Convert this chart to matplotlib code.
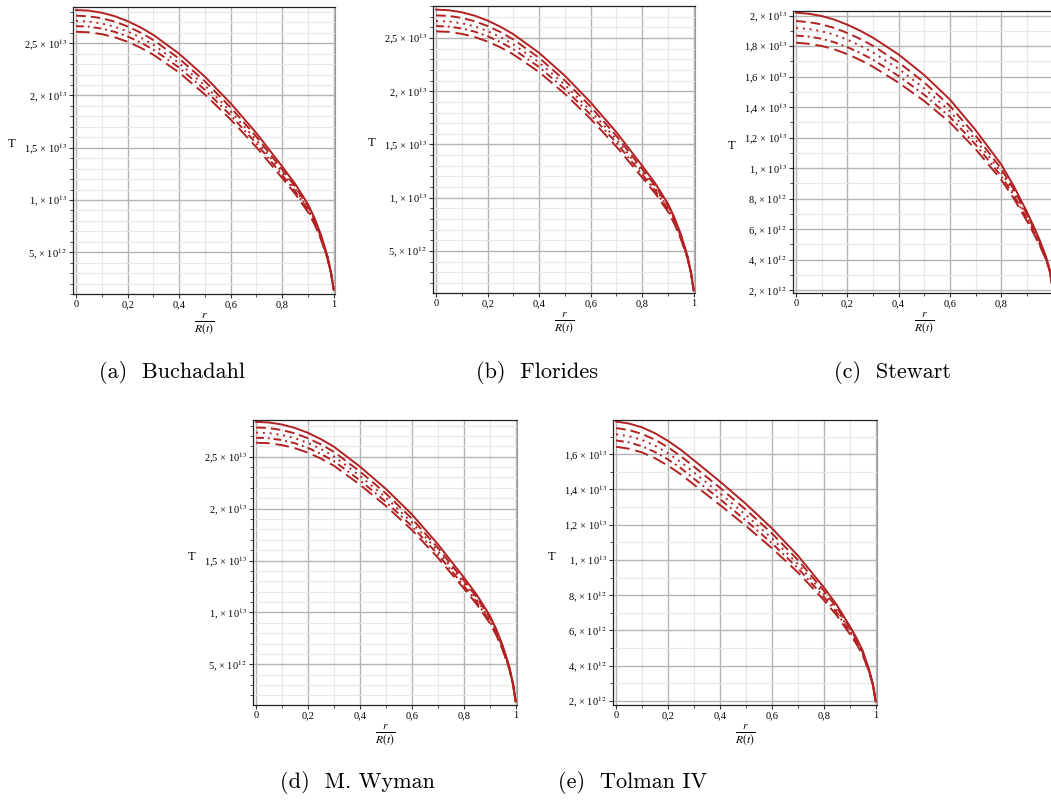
import numpy as np
import matplotlib
matplotlib.use("Agg")
import matplotlib.pyplot as plt
from matplotlib.ticker import MultipleLocator, FixedLocator

plt.rcParams['font.family'] = ['Liberation Serif', 'DejaVu Serif']
plt.rcParams['mathtext.fontset'] = 'stix'

# r / R(t)
x = [0, 0.05, 0.1, 0.15, 0.2, 0.25, 0.3, 0.4, 0.5, 0.6, 0.7, 0.8, 0.85, 0.9, 0.925, 0.95, 0.975, 0.99, 1.0]

# T in units of 1e13, five curves per panel (solid, dash, dot, dashdot, longdash)
buch = [
    [2.818, 2.812, 2.792, 2.759, 2.712, 2.652, 2.580, 2.400, 2.180, 1.925, 1.640, 1.320, 1.155, 0.960, 0.830, 0.670, 0.470, 0.300, 0.140],
    [2.764, 2.758, 2.739, 2.707, 2.661, 2.602, 2.531, 2.353, 2.136, 1.885, 1.605, 1.291, 1.130, 0.940, 0.814, 0.658, 0.463, 0.297, 0.140],
    [2.714, 2.708, 2.689, 2.658, 2.613, 2.555, 2.485, 2.310, 2.095, 1.847, 1.572, 1.265, 1.107, 0.922, 0.800, 0.647, 0.457, 0.295, 0.140],
    [2.664, 2.659, 2.640, 2.609, 2.565, 2.508, 2.439, 2.267, 2.054, 1.810, 1.540, 1.239, 1.085, 0.904, 0.786, 0.637, 0.451, 0.293, 0.140],
    [2.610, 2.605, 2.587, 2.557, 2.514, 2.458, 2.390, 2.220, 2.010, 1.770, 1.505, 1.210, 1.060, 0.885, 0.770, 0.625, 0.445, 0.290, 0.140],
]
flor = [
    [2.766, 2.760, 2.741, 2.709, 2.663, 2.605, 2.535, 2.360, 2.145, 1.895, 1.615, 1.300, 1.138, 0.945, 0.815, 0.658, 0.462, 0.292, 0.128],
    [2.712, 2.707, 2.688, 2.657, 2.612, 2.555, 2.486, 2.313, 2.101, 1.855, 1.580, 1.271, 1.113, 0.925, 0.799, 0.646, 0.455, 0.289, 0.128],
    [2.659, 2.655, 2.638, 2.608, 2.564, 2.508, 2.440, 2.270, 2.060, 1.817, 1.547, 1.245, 1.090, 0.907, 0.785, 0.635, 0.449, 0.287, 0.128],
    [2.612, 2.607, 2.589, 2.559, 2.516, 2.461, 2.394, 2.227, 2.019, 1.780, 1.515, 1.219, 1.068, 0.889, 0.771, 0.625, 0.443, 0.285, 0.128],
    [2.562, 2.557, 2.538, 2.509, 2.466, 2.412, 2.345, 2.180, 1.975, 1.740, 1.480, 1.190, 1.043, 0.870, 0.755, 0.613, 0.437, 0.282, 0.128],
]
stew = [
    [2.019, 2.012, 1.997, 1.973, 1.940, 1.901, 1.855, 1.745, 1.610, 1.450, 1.250, 1.025, 0.880, 0.715, 0.625, 0.530, 0.420, 0.330, 0.220],
    [1.964, 1.957, 1.942, 1.918, 1.886, 1.847, 1.802, 1.693, 1.562, 1.408, 1.215, 0.997, 0.858, 0.698, 0.612, 0.520, 0.414, 0.328, 0.220],
    [1.919, 1.912, 1.897, 1.874, 1.842, 1.803, 1.758, 1.651, 1.523, 1.373, 1.186, 0.974, 0.839, 0.684, 0.601, 0.512, 0.410, 0.326, 0.220],
    [1.869, 1.862, 1.848, 1.825, 1.793, 1.755, 1.711, 1.604, 1.481, 1.336, 1.155, 0.949, 0.819, 0.669, 0.589, 0.503, 0.405, 0.324, 0.220],
    [1.822, 1.815, 1.801, 1.778, 1.747, 1.709, 1.665, 1.560, 1.440, 1.300, 1.125, 0.925, 0.800, 0.655, 0.578, 0.495, 0.400, 0.322, 0.220],
]
wyman = [
    [2.836, 2.830, 2.810, 2.777, 2.730, 2.669, 2.596, 2.405, 2.190, 1.945, 1.658, 1.338, 1.170, 0.970, 0.840, 0.680, 0.480, 0.310, 0.141],
    [2.782, 2.776, 2.757, 2.725, 2.678, 2.619, 2.547, 2.358, 2.146, 1.904, 1.623, 1.309, 1.145, 0.951, 0.824, 0.668, 0.474, 0.307, 0.141],
    [2.733, 2.728, 2.709, 2.678, 2.633, 2.574, 2.503, 2.316, 2.106, 1.868, 1.592, 1.284, 1.123, 0.933, 0.810, 0.658, 0.468, 0.305, 0.141],
    [2.683, 2.678, 2.660, 2.629, 2.585, 2.527, 2.457, 2.273, 2.065, 1.831, 1.559, 1.257, 1.100, 0.915, 0.796, 0.647, 0.462, 0.302, 0.141],
    [2.635, 2.630, 2.612, 2.582, 2.539, 2.482, 2.413, 2.231, 2.026, 1.795, 1.528, 1.232, 1.078, 0.898, 0.782, 0.637, 0.456, 0.300, 0.141],
]
tolman = [
    [1.785, 1.774, 1.752, 1.719, 1.675, 1.624, 1.565, 1.445, 1.318, 1.180, 1.025, 0.845, 0.745, 0.625, 0.560, 0.485, 0.375, 0.290, 0.196],
    [1.748, 1.737, 1.715, 1.682, 1.639, 1.588, 1.529, 1.410, 1.285, 1.151, 1.000, 0.826, 0.729, 0.613, 0.551, 0.478, 0.372, 0.289, 0.196],
    [1.713, 1.702, 1.681, 1.648, 1.605, 1.555, 1.496, 1.378, 1.255, 1.123, 0.977, 0.809, 0.715, 0.602, 0.542, 0.472, 0.368, 0.287, 0.196],
    [1.678, 1.667, 1.645, 1.612, 1.570, 1.520, 1.461, 1.345, 1.224, 1.095, 0.954, 0.791, 0.700, 0.591, 0.534, 0.466, 0.365, 0.286, 0.196],
    [1.642, 1.631, 1.610, 1.577, 1.535, 1.485, 1.427, 1.312, 1.193, 1.067, 0.930, 0.773, 0.685, 0.580, 0.525, 0.460, 0.362, 0.285, 0.196],
]

captions = ["(a)  Buchadahl", "(b)  Florides", "(c)  Stewart", "(d)  M. Wyman", "(e)  Tolman IV"]
ticks_a = [5e12, 1e13, 1.5e13, 2e13, 2.5e13]
labels_a = ["5, × 10$^{12}$", "1, × 10$^{13}$", "1,5 × 10$^{13}$", "2, × 10$^{13}$", "2,5 × 10$^{13}$"]
ticks_c = [2e12, 4e12, 6e12, 8e12, 1e13, 1.2e13, 1.4e13, 1.6e13, 1.8e13, 2e13]
labels_c = ["2, × 10$^{12}$", "4, × 10$^{12}$", "6, × 10$^{12}$", "8, × 10$^{12}$", "1, × 10$^{13}$",
            "1,2 × 10$^{13}$", "1,4 × 10$^{13}$", "1,6 × 10$^{13}$", "1,8 × 10$^{13}$", "2, × 10$^{13}$"]
xticks = [0, 0.2, 0.4, 0.6, 0.8, 1.0]
xticklabels = ["0", "0,2", "0,4", "0,6", "0,8", "1"]

color = '#b22222'
styles = ['-', (0, (5, 2.5)), (0, (1, 2.5)), (0, (4, 2, 1, 2)), (0, (7, 3))]

W, H = 1051, 800
fig = plt.figure(figsize=(W / 100, H / 100), dpi=100)

# pixel boxes: left, right, top, bottom
panels = [
    (buch, (73, 335, 7, 294), (1.0e12, 2.847e13), ticks_a, labels_a),
    (flor, (433, 695, 6, 293), (1.06e12, 2.80e13), ticks_a, labels_a),
    (stew, (793, 1055, 11, 293), (1.82e12, 2.03e13), ticks_c, labels_c),
    (wyman, (253, 517, 420, 705), (1.08e12, 2.854e13), ticks_a, labels_a),
    (tolman, (613, 877, 420, 705), (1.77e12, 1.794e13), ticks_c[:-2], labels_c[:-2]),
]

for data, (l, r, t, b), ylim, yt, yl in panels:
    ax = fig.add_axes([l / W, 1 - b / H, (r - l) / W, (b - t) / H])
    for ys, ls in zip(data, styles):
        ax.plot(x, np.array(ys) * 1e13, color=color, lw=1.4, linestyle=ls)
    clipped = r > W
    ax.set_xlim(-0.012, 1.01 if clipped else 1.005)
    ax.set_ylim(*ylim)
    ax.xaxis.set_major_locator(FixedLocator(xticks))
    # the "1" label of the right panel falls outside the page in the original
    ax.set_xticklabels(xticklabels[:-1] + [""] if clipped else xticklabels)
    ax.xaxis.set_minor_locator(MultipleLocator(0.1))
    ax.yaxis.set_major_locator(FixedLocator(yt))
    ax.set_yticklabels(yl)
    ax.yaxis.set_minor_locator(MultipleLocator(1e12))
    ax.grid(which='major', color='#b4b4b4', lw=1.0)
    ax.grid(which='minor', color='#e8e8e8', lw=0.9)
    ax.set_axisbelow(True)
    ax.tick_params(which='both', direction='out', labelsize=7.5, top=False, right=False,
                   color='#333333', pad=1.5)
    ax.tick_params(which='major', length=3)
    ax.tick_params(which='minor', length=2)
    for side in ['left', 'bottom', 'top']:
        ax.spines[side].set_color('#222222')
        ax.spines[side].set_linewidth(0.9)
    ax.spines['right'].set_color('#999999')
    ax.set_xlabel(r"$\frac{r}{R(t)}$", fontsize=12, labelpad=2)
    ax.set_ylabel("T", rotation=0, fontsize=9)
    ax.yaxis.set_label_coords(-0.233, 0.5)

cap_pos = [(172, 372), (537, 372), (892, 372), (357, 782), (633, 782)]
for (cx, cy), txt in zip(cap_pos, captions):
    fig.text(cx / W, 1 - cy / H, txt, ha='center', va='center', fontsize=16, family='cmr10')

fig.savefig("out.png", dpi=100)
